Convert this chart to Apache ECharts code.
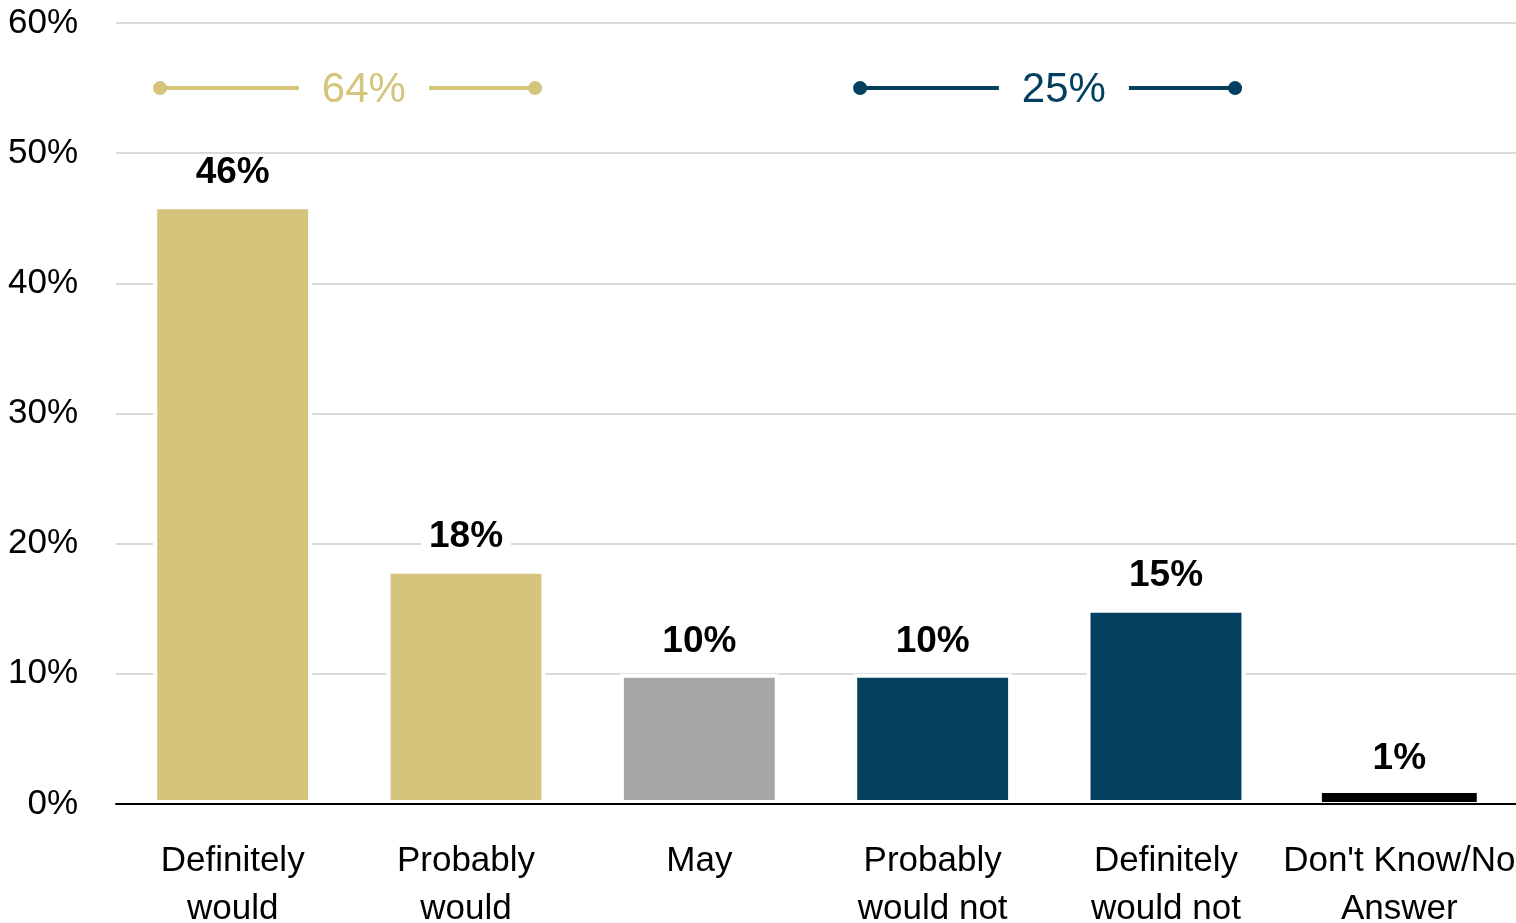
<!DOCTYPE html>
<html lang="en">
<head>
    <meta charset="UTF-8">
    <title>echarts</title>
    <script src="https://cdn.jsdelivr.net/npm/echarts@6/dist/echarts.min.js"></script>
    <style>
        html, body { margin: 0; padding: 0; background: #fff; }
        #myChart { width: 1516px; height: 923px; }
    </style>
</head>
<body>
<div id="myChart"></div>
<script type="text/javascript">
    var categories = ["Definitely\nwould", "Probably\nwould", "May", "Probably\nwould not", "Definitely\nwould not", "Don't Know/No\nAnswer"];
    var values = [46, 18, 10, 10, 15, 1];
    var barColors = ["#D4C47C", "#D4C47C", "#A6A6A6", "#033F5F", "#033F5F", "#000000"];
    var yTicks = [0, 10, 20, 30, 40, 50, 60];
    // grouped totals: [first category, last category, total]
    var groups = [[0, 1, 64], [3, 4, 25]];
    var groupColors = ["#D4C47C", "#033F5F"];

    var FONT = "'Liberation Sans Narrow', 'Arial Narrow', 'Liberation Sans', sans-serif";

    var myChart = echarts.init(document.getElementById('myChart'));

    var option = {
        animation: false,
        grid: {left: 116, right: 0, top: 23, bottom: 119, containLabel: false, outerBoundsMode: 'none'},
        xAxis: {
            type: 'category',
            data: categories,
            z: 5,
            axisLine: {lineStyle: {color: '#000', width: 2}},
            axisTick: {show: false},
            axisLabel: {
                interval: 0,
                margin: 33,
                fontFamily: FONT,
                fontSize: 35,
                lineHeight: 48,
                color: '#000'
            }
        },
        yAxis: {
            type: 'value',
            min: yTicks[0],
            max: yTicks[yTicks.length - 1],
            interval: 10,
            axisLine: {show: false},
            axisTick: {show: false},
            splitLine: {lineStyle: {color: '#D9D9D9', width: 2}},
            axisLabel: {
                margin: 38,
                fontFamily: FONT,
                fontSize: 35,
                color: '#000',
                formatter: '{value}%'
            }
        },
        series: [
            {
                type: 'bar',
                barWidth: '68.1%',
                z: 2,
                data: values.map(function (v, i) {
                    var item = {value: v, itemStyle: {color: barColors[i]}};
                    if (v < 3) {
                        item.itemStyle.borderWidth = 2;
                    }
                    return item;
                }),
                // white outline cuts the gridlines next to each bar
                itemStyle: {borderColor: '#fff', borderWidth: 4},
                label: {
                    show: true,
                    position: 'top',
                    distance: 14,
                    formatter: '{c}%',
                    fontFamily: FONT,
                    fontSize: 37,
                    fontWeight: 'bold',
                    color: '#000',
                    backgroundColor: '#fff',
                    padding: [0, 8]
                }
            },
            {
                type: 'custom',
                z: 4,
                data: groups,
                renderItem: function (params, api) {
                    var a = api.coord([api.value(0), 55]);
                    var b = api.coord([api.value(1), 55]);
                    var band = api.size([1, 0])[0];
                    var x1 = a[0] - band * 0.311;
                    var x2 = b[0] + band * 0.296;
                    var y = a[1];
                    var w = x2 - x1;
                    var g1 = x1 + w * 0.37;
                    var g2 = x1 + w * 0.717;
                    var c = groupColors[params.dataIndex];
                    return {
                        type: 'group',
                        children: [
                            {type: 'line', shape: {x1: x1, y1: y, x2: g1, y2: y}, style: {stroke: c, lineWidth: 4}},
                            {type: 'line', shape: {x1: g2, y1: y, x2: x2, y2: y}, style: {stroke: c, lineWidth: 4}},
                            {type: 'circle', shape: {cx: x1, cy: y, r: 7}, style: {fill: c}},
                            {type: 'circle', shape: {cx: x2, cy: y, r: 7}, style: {fill: c}},
                            {
                                type: 'text',
                                x: (g1 + g2) / 2,
                                y: y + 2,
                                style: {
                                    text: api.value(2) + '%',
                                    fill: c,
                                    font: '42px ' + FONT,
                                    align: 'center',
                                    verticalAlign: 'middle'
                                }
                            }
                        ]
                    };
                }
            }
        ]
    };

    myChart.setOption(option);
</script>
</body>
</html>
